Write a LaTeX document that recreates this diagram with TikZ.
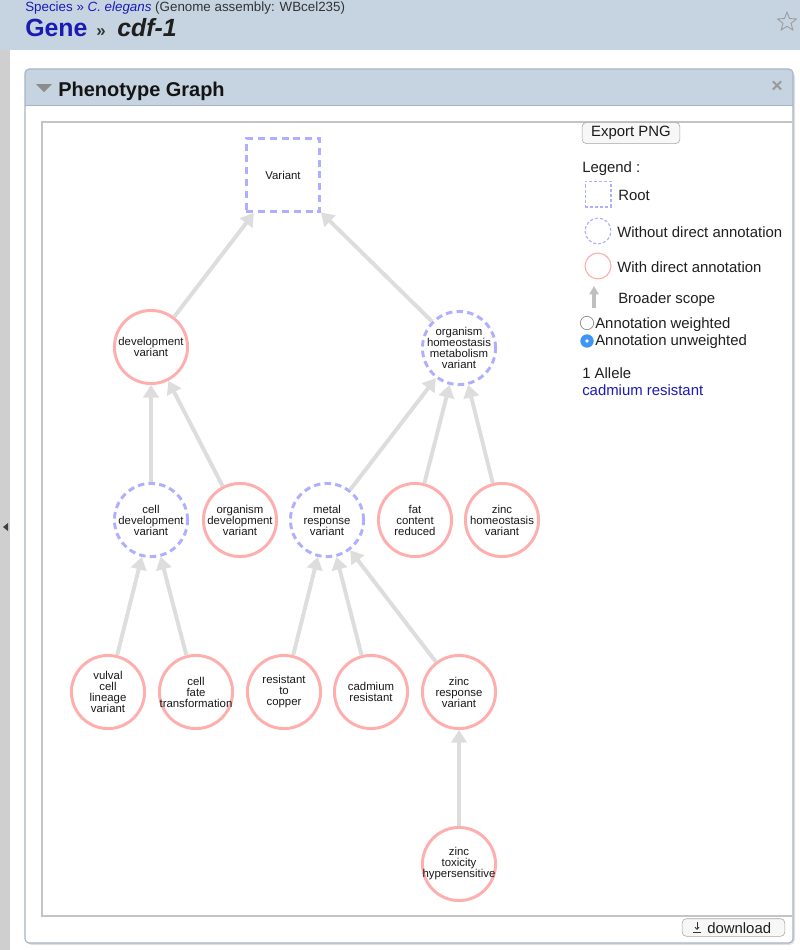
\documentclass[tikz,border=0pt]{standalone}
\usepackage{fontspec}
\setmainfont{Liberation Sans}
\usetikzlibrary{arrows.meta,shapes.geometric,positioning}

\definecolor{hdrblue}{HTML}{C6D4E2}
\definecolor{linkblue}{HTML}{1A1AB4}
\definecolor{annot}{HTML}{FFAEAE}
\definecolor{noannot}{HTML}{AFAFFF}
\definecolor{edgegray}{HTML}{DDDDDD}
\definecolor{framegray}{HTML}{C4C4C4}
\definecolor{panelborder}{HTML}{A6B4C4}
\definecolor{stripgray}{HTML}{CFCFCF}
\definecolor{radioblue}{HTML}{3D95F5}

\newcommand{\phenofont}{\fontsize{8.1}{7.8}\selectfont}
\newcommand{\legfont}{\fontsize{10.6}{12}\selectfont}

\begin{document}
\begin{tikzpicture}[x=0.025cm,y=-0.025cm,
    annotated/.style={circle,draw=annot,line width=2.1pt,minimum size=52pt,
      inner sep=-8pt,align=center,font=\phenofont,text=black!90},
    unannotated/.style={annotated,draw=noannot,dash pattern=on 4.6pt off 3pt},
    rootbox/.style={rectangle,draw=noannot,line width=2.1pt,
      dash pattern=on 5pt off 3.4pt,minimum size=52pt,inner sep=0pt,
      font=\phenofont,text=black!90},
    broader/.style={draw=edgegray,line width=2.8pt,
      -{Triangle[length=9pt,width=11pt]}},
    legtext/.style={anchor=base west,inner sep=0pt,font=\legfont,text=black!88},
    button/.style={draw=black!35,fill=black!3,rounded corners=3pt,inner sep=0pt,
      font=\legfont,text=black!90}]
  \useasboundingbox (0,0) rectangle (800,950);
  \fill[white] (0,0) rectangle (800,950);

  % page header
  \fill[hdrblue] (0,0) rectangle (800,50);
  \node[anchor=base west,inner sep=0pt,font=\fontsize{9.5}{11}\selectfont,text=black!80]
    (crumbs) at (25,11) {{\color{linkblue}Species} {\color{linkblue}»}
    {\color{linkblue}\itshape C. elegans} (Genome assembly: WBcel235)};
  \node[anchor=base west,inner sep=0pt,font=\fontsize{17.7}{20}\bfseries,text=linkblue]
    (gene) at (25,36) {Gene};
  \node[anchor=base west,inner sep=0pt,font=\fontsize{12}{14}\bfseries,text=black!80]
    (raquo) at (96,36) {»};
  \node[anchor=base west,inner sep=0pt,font=\fontsize{17.7}{20}\bfseries\itshape,text=black!88]
    (genename) at (117,36) {cdf-1};
  \node[star,star points=5,star point ratio=2.3,draw=black!40,line width=0.6pt,
    minimum size=14pt,inner sep=0pt] (fav) at (787,22) {};

  % left strip
  \fill[stripgray] (0,50) rectangle (10,950);
  \fill[black!75] (3,527) -- (8,523) -- (8,531) -- cycle;

  % panel
  \fill[black!12,rounded corners=4pt] (26,71) rectangle (795,945);
  \fill[white,rounded corners=3pt] (25,69) rectangle (793,943);
  \fill[hdrblue,rounded corners=3pt] (25,69) rectangle (793,105);
  \fill[hdrblue] (25,90) rectangle (793,105);
  \draw[panelborder,line width=0.7pt] (25,105) -- (793,105);
  \draw[panelborder,line width=0.8pt,rounded corners=3pt] (25,69) rectangle (793,943);
  \fill[black!45] (36,84) -- (52,84) -- (44,92) -- cycle;
  \node[anchor=base west,inner sep=0pt,font=\fontsize{14.2}{16}\bfseries,text=black!92]
    (paneltitle) at (58,96) {Phenotype Graph};
  \node[inner sep=0pt,font=\fontsize{14}{14}\bfseries,text=black!40] (close) at (777,87) {×};
  \draw[framegray,line width=0.8pt] (792,122) -- (42,122) -- (42,916) -- (792,916);

  % graph nodes
  \node[rootbox] (variant) at (283,175) {Variant};
  \node[annotated] (devvar) at (151,347) {development\\variant};
  \node[unannotated] (orghomeo) at (459,348) {organism\\homeostasis\\metabolism\\variant};
  \node[unannotated] (celldev) at (151,520) {cell\\development\\variant};
  \node[annotated] (orgdev) at (240,520) {organism\\development\\variant};
  \node[unannotated] (metalresp) at (327,520) {metal\\response\\variant};
  \node[annotated] (fatcont) at (415,520) {fat\\content\\reduced};
  \node[annotated] (zinchomeo) at (502,520) {zinc\\homeostasis\\variant};
  \node[annotated] (vulval) at (108,692) {vulval\\cell\\lineage\\variant};
  \node[annotated] (cellfate) at (196,692) {cell\\fate\\transformation};
  \node[annotated] (rescopper) at (284,692) {resistant\\to\\copper};
  \node[annotated] (cadmium) at (371,692) {cadmium\\resistant};
  \node[annotated] (zincresp) at (459,692) {zinc\\response\\variant};
  \node[annotated] (zinctox) at (459,864) {zinc\\toxicity\\hypersensitive};

  % broader scope edges
  \draw[broader] (devvar) -- (variant);
  \draw[broader] (orghomeo) -- (variant);
  \draw[broader] (celldev) -- (devvar);
  \draw[broader] (orgdev) -- (devvar);
  \draw[broader] (metalresp) -- (orghomeo);
  \draw[broader] (fatcont) -- (orghomeo);
  \draw[broader] (zinchomeo) -- (orghomeo);
  \draw[broader] (vulval) -- (celldev);
  \draw[broader] (cellfate) -- (celldev);
  \draw[broader] (rescopper) -- (metalresp);
  \draw[broader] (cadmium) -- (metalresp);
  \draw[broader] (zincresp) -- (metalresp);
  \draw[broader] (zinctox) -- (zincresp);

  % legend
  \node[button,minimum width=69.5pt,minimum height=15pt] (export) at (631,133) {Export PNG};
  \node[legtext] (legtitle) at (582,172) {Legend :};
  \node[rectangle,draw=noannot,line width=0.8pt,dash pattern=on 2.2pt off 1.4pt,
    minimum size=18.4pt,inner sep=0pt] (keyroot) at (598,194) {};
  \node[legtext] (rootlbl) at (618,200) {Root};
  \node[circle,draw=noannot,line width=0.8pt,dash pattern=on 2.2pt off 1.4pt,
    minimum size=18.4pt,inner sep=0pt] (keyindirect) at (598,231) {};
  \node[legtext] (indirectlbl) at (617,237) {Without direct annotation};
  \node[circle,draw=annot,line width=0.8pt,minimum size=18.4pt,inner sep=0pt]
    (keydirect) at (598,266) {};
  \node[legtext] (directlbl) at (617,272) {With direct annotation};
  \coordinate (keytail) at (594,308);
  \coordinate (keyhead) at (594,286);
  \draw[draw=black!25,line width=2.2pt,-{Triangle[length=6pt,width=6.5pt]}] (keytail) -- (keyhead);
  \node[legtext] (scopelbl) at (618,303) {Broader scope};
  \node[circle,draw=black!45,fill=white,line width=0.5pt,minimum size=9.5pt,inner sep=0pt]
    (radioweighted) at (587,323) {};
  \node[legtext] (weightedlbl) at (595,328) {Annotation weighted};
  \node[circle,fill=radioblue,minimum size=9.5pt,inner sep=0pt] (radiounweighted) at (587,341) {};
  \node[circle,fill=white,minimum size=2.6pt,inner sep=0pt] (radiodot) at (587,341) {};
  \node[legtext] (unweightedlbl) at (595,345) {Annotation unweighted};
  \node[legtext] (allele) at (582,378) {1 Allele};
  \node[legtext,text=linkblue] (allelelink) at (582,395) {cadmium resistant};

  % download button
  \node[button,minimum width=73pt,minimum height=12.5pt,text depth=0pt] (download) at (733.5,927.5) {};
  \node[legtext] (downloadlbl) at (707,933) {download};
  \coordinate (dltop) at (697,922);
  \coordinate (dlbot) at (697,930);
  \draw[black!80,line width=0.6pt,-{Straight Barb[length=1.6pt,width=3pt]}] (dltop) -- (dlbot);
  \draw[black!80,line width=0.6pt] (693,932) -- (701,932);
\end{tikzpicture}
\end{document}
